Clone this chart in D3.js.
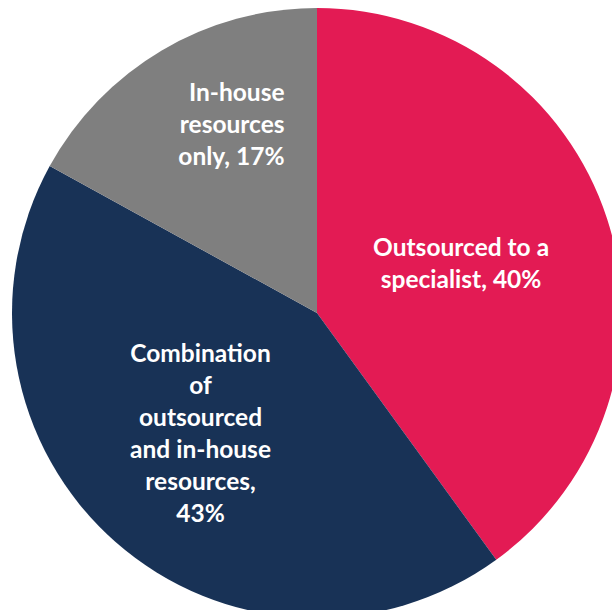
<!DOCTYPE html>
<html>
<head>
<meta charset="utf-8">
<script src="https://cdn.jsdelivr.net/npm/d3@7"></script>
<style>
  html, body { margin: 0; padding: 0; background: #ffffff; }
  svg { display: block; }
  .lbl { font-family: Lato, "Open Sans", sans-serif; font-weight: 700; fill: #ffffff; }
</style>
</head>
<body>
<svg id="chart" width="612" height="610"></svg>
<script>
// Resourcing approach shares
const categories = ["Outsourced to a specialist", "Combination of outsourced and in-house resources", "In-house resources only"];
const values = [40, 43, 17];
const labelLines = [
  ["Outsourced to a", "specialist, 40%"],
  ["Combination", "of", "outsourced", "and in-house", "resources,", "43%"],
  ["In-house", "resources", "only, 17%"]
];
const colors = ["#E31B54", "#183256", "#7F7F7F"];

const svg = d3.select("#chart");
const cx = 317, cy = 313, radius = 305;

const pie = d3.pie().sort(null).value(d => d.value);
const arcs = pie(categories.map((c, i) => ({ name: c, value: values[i], lines: labelLines[i], color: colors[i] })));

const arc = d3.arc().innerRadius(0).outerRadius(radius);

const g = svg.append("g").attr("transform", `translate(${cx},${cy})`);

g.selectAll("path.slice")
  .data(arcs)
  .join("path")
  .attr("class", "slice")
  .attr("d", arc)
  .attr("fill", d => d.data.color);

// Label placement radius, alignment and horizontal nudge for each slice
const labelRadius = [162, 161, 219];
const labelAnchor = ["middle", "middle", "end"];
const labelShift = [-10, -10, 79];
const fontSize = 24.5;
const lineHeight = 32;

arcs.forEach((d, i) => {
  const mid = (d.startAngle + d.endAngle) / 2;
  const r = labelRadius[i];
  const x = Math.sin(mid) * r + labelShift[i];
  const y = -Math.cos(mid) * r;
  const n = d.data.lines.length;
  const top = y - (n - 1) * lineHeight / 2;
  const t = g.append("text")
    .attr("class", "lbl")
    .attr("font-size", fontSize)
    .attr("text-anchor", labelAnchor[i]);
  d.data.lines.forEach((line, j) => {
    t.append("tspan")
      .attr("x", x)
      .attr("y", top + j * lineHeight)
      .attr("dy", "0.35em")
      .text(line);
  });
});
</script>
</body>
</html>
